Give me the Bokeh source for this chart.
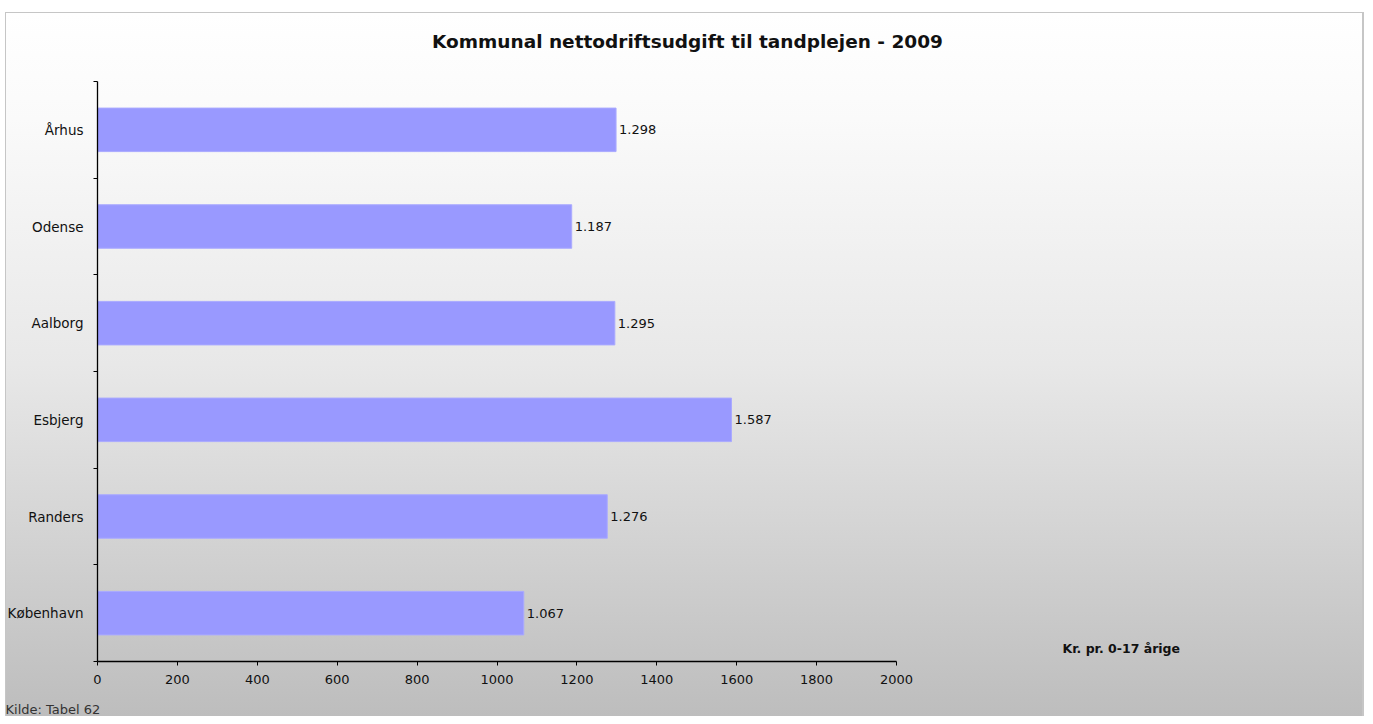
from bokeh.plotting import figure
from bokeh.models import (ColumnDataSource, Range1d, FixedTicker, LabelSet, Label,
                          LinearAxis)
from bokeh.core.properties import value
from bokeh.embed import file_html
from bokeh.resources import INLINE

# Data (top to bottom, as shown)
cities = ["Århus", "Odense", "Aalborg", "Esbjerg", "Randers", "København"]
udgift = [1298, 1187, 1295, 1587, 1276, 1067]
x_ticks = [0, 200, 400, 600, 800, 1000, 1200, 1400, 1600, 1800, 2000]
title_text = "Kommunal nettodriftsudgift til tandplejen - 2009"
unit_text = "Kr. pr. 0-17 årige"
source_text = "Kilde: Tabel 62"

n = len(cities)
ypos = [n - 1 - i for i in range(n)]
labels = [f"{v:,}".replace(",", ".") for v in udgift]
src = ColumnDataSource(dict(y=ypos, v=udgift, city=cities, lab=labels))

FONT = "DejaVu Sans"

# layout: plot area occupies page pixels x 97..896, y 81..661
W, H = 1365, 716
AL, AT, AW, AH = 97, 81, 799, 580
XMAX = x_ticks[-1]

def dx(px):
    return (px - AL) / AW * XMAX

def dy(py):
    return (n - 0.5) - (py - AT) / AH * n

p = figure(width=W, height=H, output_backend="svg", toolbar_location=None,
           x_range=Range1d(dx(0), dx(W)), y_range=Range1d(dy(H), dy(0)),
           x_axis_location=None, y_axis_location=None,
           min_border=0)
p.title = None
p.background_fill_alpha = 0
p.border_fill_alpha = 0
p.outline_line_color = None
p.styles = {"background": (
    "linear-gradient(to bottom, #ffffff 0%, #fafafa 15%, #e8e8e8 50%, #d0d0d0 78%, #bdbdbd 100%) 6px 13px / 1356px 703px no-repeat, "
    "linear-gradient(#c6c6c6, #c6c6c6) 5px 12px / 1359px 704px no-repeat, #ffffff")}
p.grid.visible = False

p.hbar(y="y", right="v", left=0, height=0.45, source=src,
       fill_color="#9999ff", line_color="#aaaaff", line_width=1)

p.add_layout(LabelSet(x="v", y="y", text="lab", source=src, x_offset=3,
                      text_baseline="middle", text_font=value(FONT),
                      text_font_size="13px", text_color="#111111"))

# x axis
xa = LinearAxis(fixed_location=-0.5, bounds=(0, XMAX))
xa.ticker = FixedTicker(ticks=x_ticks, minor_ticks=[])
xa.major_tick_out = 4
xa.major_tick_in = 0
xa.minor_tick_out = 0
xa.axis_line_color = "black"
xa.axis_line_width = 1.3
xa.major_tick_line_color = "black"
xa.major_label_standoff = 9
xa.major_label_text_font = FONT
xa.major_label_text_font_size = "13px"
xa.major_label_text_color = "#111111"
p.add_layout(xa, "below")

# y axis (labels at band centres, ticks at band boundaries)
ya = LinearAxis(fixed_location=0, bounds=(-0.5, n - 0.5))
ya.ticker = FixedTicker(ticks=ypos, minor_ticks=[k - 0.5 for k in range(n + 1)])
ya.major_label_overrides = {y: c for y, c in zip(ypos, cities)}
ya.major_tick_out = 0
ya.major_tick_in = 0
ya.minor_tick_out = 4
ya.minor_tick_in = 0
ya.minor_tick_line_color = "black"
ya.axis_line_color = "black"
ya.axis_line_width = 1.3
ya.major_label_standoff = 10
ya.major_label_text_font = FONT
ya.major_label_text_font_size = "13.5px"
ya.major_label_text_color = "#111111"
p.add_layout(ya, "left")

p.add_layout(Label(x=dx(687), y=dy(41), text=title_text,
                   text_align="center", text_baseline="middle",
                   text_font=FONT, text_font_style="bold",
                   text_font_size="18.5px", text_color="#111111"))
p.add_layout(Label(x=dx(1062), y=dy(648), text=unit_text,
                   text_align="left", text_baseline="middle",
                   text_font=FONT, text_font_style="bold",
                   text_font_size="12.5px", text_color="#111111"))
p.add_layout(Label(x=dx(5), y=dy(709), text=source_text,
                   text_align="left", text_baseline="middle",
                   text_font=FONT,
                   text_font_size="13px", text_color="#333333"))

open("out.html", "w").write(file_html(p, INLINE))
